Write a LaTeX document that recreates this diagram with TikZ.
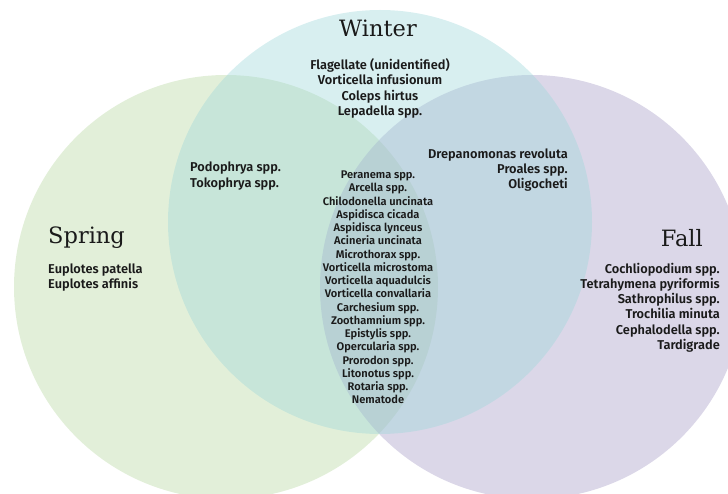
\documentclass[tikz,border=0pt]{standalone}
\usepackage{fontspec}
\newfontfamily\bodyfont{Fira Sans SemiBold}
\newfontfamily\titlefont{DejaVu Serif}
\definecolor{springc}{RGB}{183,215,160}
\definecolor{winterc}{RGB}{158,215,218}
\definecolor{fallc}{RGB}{165,155,198}
\definecolor{inkc}{RGB}{26,26,26}
\begin{document}
\begin{tikzpicture}[x=1pt,y=-1pt,
  setcircle/.style={fill opacity=0.4, draw=none},
  settitle/.style={font=\titlefont\fontsize{22.5}{27}\selectfont, text=inkc, inner sep=0pt},
  species/.style={font=\bodyfont\fontsize{12.8}{15.2}\selectfont, inner sep=0pt, text=inkc},
  core/.style={font=\bodyfont\fontsize{11.1}{13.24}\selectfont, inner sep=0pt, text=inkc, align=center}]
\useasboundingbox (0,0) rectangle (728,494);
\begin{scope}
\clip (0,0) rectangle (728,494);
\fill[springc, setcircle] (226,287) circle[radius=212];
\fill[fallc, setcircle] (532,287) circle[radius=212];
\fill[winterc, setcircle] (380,222) circle[radius=212];
\end{scope}
% titles
\node[settitle] (winter) at (378,28) {Winter};
\node[settitle, anchor=west] (spring) at (48,238) {Spring};
\node[settitle, anchor=east] (fall) at (703,238) {Fall};
% winter only
\node[species, align=center] (wonly) at (380,88.5) {Flagellate (unidentified)\\Vorticella infusionum\\Coleps hirtus\\Lepadella spp.};
% spring & winter
\node[species, align=left, anchor=west] (sw) at (190,176) {Podophrya spp.\\Tokophrya spp.};
% winter & fall
\node[species, align=right, anchor=east] (wf) at (568,170) {Drepanomonas revoluta\\Proales spp.\\Oligocheti};
% all three
\node[core] (all) at (378,287.5) {Peranema spp.\\Arcella spp.\\Chilodonella uncinata\\Aspidisca cicada\\Aspidisca lynceus\\Acineria uncinata\\Microthorax spp.\\Vorticella microstoma\\Vorticella aquadulcis\\Vorticella convallaria\\Carchesium spp.\\Zoothamnium spp.\\Epistylis spp.\\Opercularia spp.\\Prorodon spp.\\Litonotus spp.\\Rotaria spp.\\Nematode};
% spring only
\node[species, align=left, anchor=west] (sonly) at (48,277.5) {Euplotes patella\\Euplotes affinis};
% fall only
\node[species, align=right, anchor=east] (fonly) at (720,307.5) {Cochliopodium spp.\\Tetrahymena pyriformis\hspace{3pt}\\Sathrophilus spp.\\Trochilia minuta\hspace{3pt}\\Cephalodella spp.\\Tardigrade};
\end{tikzpicture}
\end{document}
